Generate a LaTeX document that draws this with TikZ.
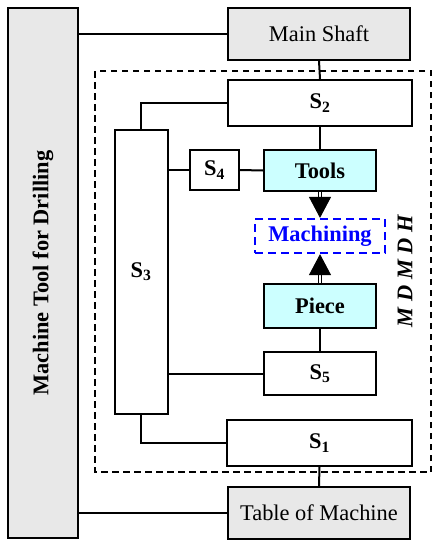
\documentclass[tikz,border=0pt]{standalone}
\usepackage{fontspec}
\setmainfont{Liberation Serif}
\usetikzlibrary{arrows.meta}
\definecolor{boxgray}{RGB}{232,232,232}
\definecolor{boxcyan}{RGB}{204,255,255}
\begin{document}
\begin{tikzpicture}[x=1pt,y=-1pt,line width=2pt,
  block/.style={draw,line width=2pt,minimum width=#1,inner sep=0pt,
    font=\fontsize{22.4}{27}\selectfont},
  part/.style={block=#1,fill=boxgray},
  work/.style={block=#1,fill=boxcyan,font=\fontsize{22.4}{27}\selectfont\bfseries},
  sub/.style={block=#1,font=\fontsize{22.4}{27}\selectfont\bfseries},
  flow/.style={double,double distance=2pt,line width=1pt,
    -{Triangle[width=22pt,length=21pt]}}]
  \useasboundingbox (0,0) rectangle (433,544);
  \node [part=530pt,minimum height=70pt,rotate=90,
    font=\fontsize{22.4}{27}\selectfont\bfseries] (machine) at (43,273) {Machine Tool for Drilling};
  \node [part=182pt,minimum height=52pt] (shaft) at (319,34) {Main Shaft};
  \node [part=182pt,minimum height=52pt] (table) at (319,513) {Table of Machine};
  \draw [dashed,dash pattern=on 6.5pt off 4.5pt,line width=1.4pt] (95,71) rectangle (431,472);
  \node [sub=184pt,minimum height=46pt] (s2) at (320,103) {S\textsubscript{2}};
  \node [sub=53pt,minimum height=284pt] (s3) at (141,272) {S\textsubscript{3}};
  \node [sub=49pt,minimum height=40pt] (s4) at (214.5,170) {S\textsubscript{4}};
  \node [work=112pt,minimum height=41pt] (tools) at (320,170.5) {Tools};
  \node [block=130pt,minimum height=34pt,draw=blue,text=blue,dashed,
    dash pattern=on 8pt off 5pt,line width=2.2pt,
    font=\fontsize{22.4}{27}\selectfont\bfseries] (machining) at (320,236) {Machining};
  \node [work=112pt,minimum height=44pt] (piece) at (320,306) {Piece};
  \node [sub=112pt,minimum height=43pt] (s5) at (320,373.5) {S\textsubscript{5}};
  \node [sub=185pt,minimum height=46pt] (s1) at (319.5,443) {S\textsubscript{1}};
  \node [rotate=90,font=\fontsize{22.4}{27}\selectfont\bfseries\itshape] (mdmdh) at (405,271) {M D M D H};
  \draw (machine.south |- shaft) -- (shaft.west);
  \draw (machine.south |- table) -- (table.west);
  \draw (shaft.south) -- (s2.north);
  \draw (s2.west) -| (s3.north);
  \draw (s3.east |- s4) -- (s4.west);
  \draw (s4.east) -- (tools.west);
  \draw (s2.south) -- (tools.north);
  \draw [flow] (tools.south) -- (machining.north);
  \draw [flow] (piece.north) -- (machining.south);
  \draw (piece.south) -- (s5.north);
  \draw (s5.west) -- (s5.west -| s3.east);
  \draw (s3.south) |- (s1.west);
  \draw (s1.south) -- (table.north);
\end{tikzpicture}
\end{document}
